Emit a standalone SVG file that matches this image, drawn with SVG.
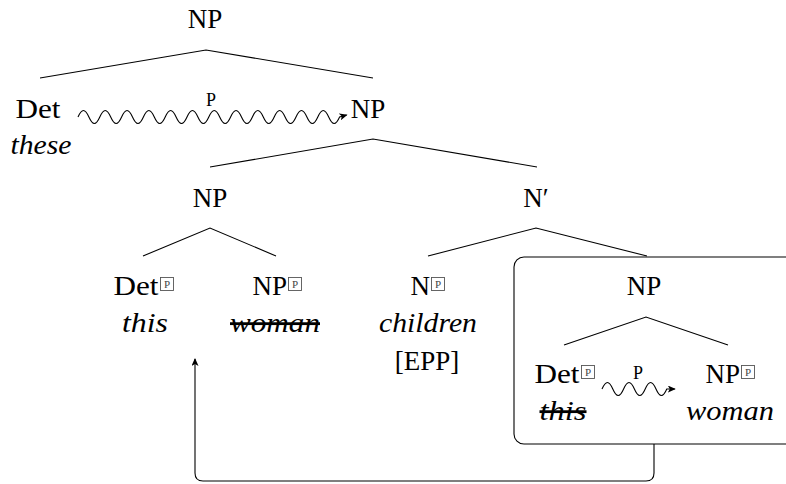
<svg xmlns="http://www.w3.org/2000/svg" width="786" height="484" viewBox="0 0 786 484">
<style>
.lbl{font-family:'Liberation Serif',serif;font-size:27px;fill:#000;text-anchor:middle}
.it{font-family:'Liberation Serif',serif;font-style:italic;font-size:28px;fill:#000;text-anchor:middle}
.strike{text-decoration:line-through}
.small{font-family:'Liberation Serif',serif;font-size:18px;fill:#000;text-anchor:middle}
.bx{fill:none;stroke:#555;stroke-width:0.9}
.bp{font-family:'Liberation Serif',serif;font-size:11px;fill:#444;text-anchor:middle}
.edge{fill:none;stroke:#000;stroke-width:1.1}
.wave{fill:none;stroke:#000;stroke-width:1.1}
</style>
<defs>
<marker id="ah" markerUnits="userSpaceOnUse" markerWidth="9" markerHeight="7" refX="7" refY="3.5" orient="auto">
<path d="M0,0 L8,3.5 L0,7 L2,3.5 z" fill="#000"/>
</marker>
<g id="pbox">
<rect class="bx" x="0.5" y="0.5" width="13" height="13"/>
<text class="bp" x="7" y="11">P</text>
</g>
</defs>

<g id="edges">
<path class="edge" d="M40,78 L206,50 L373,78"/>
<path class="edge" d="M210,167 L373,139 L537,167"/>
<path class="edge" d="M143,256 L210,228 L276,256"/>
<path class="edge" d="M428,256 L536,228 L647,256"/>
<path class="edge" d="M564,345 L646,317 L728,345"/>
</g>

<g id="frame">
<rect x="514" y="257" width="300" height="187" rx="10" ry="10" fill="none" stroke="#000" stroke-width="1.1"/>
</g>

<g id="connectors">
<path class="wave" d="M78,117 c3.9,-8.7 7,-8.7 10.9,0 s7,8.7 10.9,0 s7,-8.7 10.9,0 s7,8.7 10.9,0 s7,-8.7 10.9,0 s7,8.7 10.9,0 s7,-8.7 10.9,0 s7,8.7 10.9,0 s7,-8.7 10.9,0 s7,8.7 10.9,0 s7,-8.7 10.9,0 s7,8.7 10.9,0 s7,-8.7 10.9,0 s7,8.7 10.9,0 s7,-8.7 10.9,0 s7,8.7 10.9,0 s7,-8.7 10.9,0 s7,8.7 10.9,0 s7,-8.7 10.9,0 s7,8.7 10.9,0 s7,-8.7 10.9,0 s7,8.7 10.9,0 s7,-8.7 10.9,0 s7,8.7 10.9,0 l7,-2" marker-end="url(#ah)"/>
<text class="small" x="211" y="106">P</text>
<path class="wave" d="M602,389 c3.9,-8.7 7,-8.7 10.8,0 s7,8.7 10.8,0 s7,-8.7 10.8,0 s7,8.7 10.8,0 s7,-8.7 10.8,0 s7,8.7 10.8,0 l8,0" marker-end="url(#ah)"/>
<text class="small" x="638" y="379">P</text>
<path class="edge" d="M654,444 V473 Q654,481 646,481 H203 Q195,481 195,473 V359" marker-end="url(#ah)"/>
</g>

<g id="np-top"><text class="lbl" x="205" y="28">NP</text></g>

<g id="det-these">
<text class="lbl" x="38" y="118" textLength="45" lengthAdjust="spacingAndGlyphs">Det</text>
<text class="it" x="41" y="154" textLength="61" lengthAdjust="spacingAndGlyphs">these</text>
</g>

<g id="np-1"><text class="lbl" x="368" y="118">NP</text></g>

<g id="np-2"><text class="lbl" x="210" y="207">NP</text></g>

<g id="nbar"><text class="lbl" x="536" y="207">N′</text></g>

<g id="det-this">
<text class="lbl" x="136" y="295" textLength="45" lengthAdjust="spacingAndGlyphs">Det</text>
<use href="#pbox" x="160" y="277"/>
<text class="it" x="145" y="332" textLength="46" lengthAdjust="spacingAndGlyphs">this</text>
</g>

<g id="np-woman">
<text class="lbl" x="287" y="295" style="text-anchor:end">NP</text>
<use href="#pbox" x="288" y="277"/>
<text class="it strike" x="275" y="332" textLength="90" lengthAdjust="spacingAndGlyphs">woman</text>
</g>

<g id="n-children">
<text class="lbl" x="430" y="295" style="text-anchor:end">N</text>
<use href="#pbox" x="431" y="277"/>
<text class="it" x="428" y="332" textLength="98" lengthAdjust="spacingAndGlyphs">children</text>
<text class="lbl" x="427" y="370">[EPP]</text>
</g>

<g id="np-box"><text class="lbl" x="644" y="295">NP</text></g>

<g id="det-this-2">
<text class="lbl" x="557" y="383" textLength="45" lengthAdjust="spacingAndGlyphs">Det</text>
<use href="#pbox" x="581" y="365"/>
<text class="it strike" x="563" y="420" textLength="47" lengthAdjust="spacingAndGlyphs">this</text>
</g>

<g id="np-woman-2">
<text class="lbl" x="740" y="383" style="text-anchor:end">NP</text>
<use href="#pbox" x="741" y="365"/>
<text class="it" x="730" y="420" textLength="88" lengthAdjust="spacingAndGlyphs">woman</text>
</g>
</svg>
